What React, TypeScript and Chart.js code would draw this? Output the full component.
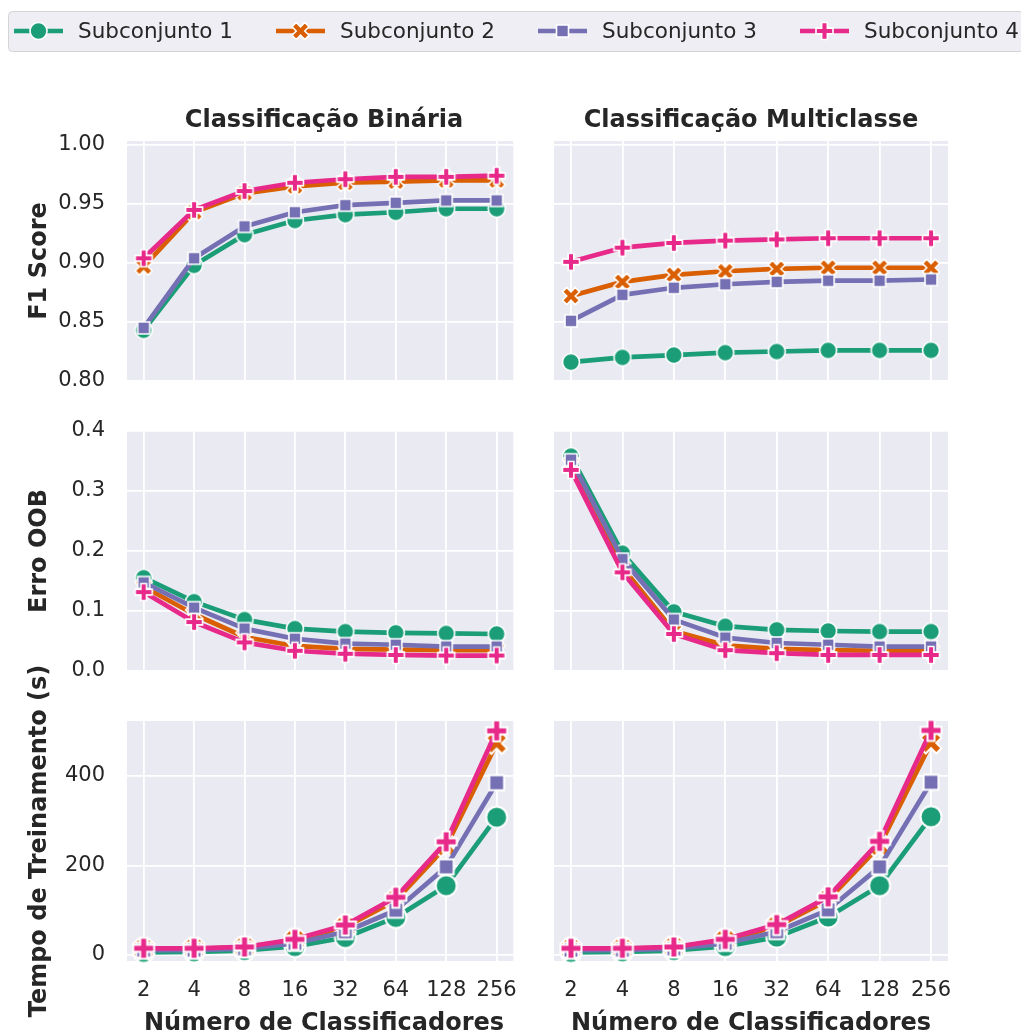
import React, { useEffect, useRef } from 'react';
import { Chart, registerables } from 'chart.js';

Chart.register(...registerables);

// ---------------- data ----------------
const classificadores = [2, 4, 8, 16, 32, 64, 128, 256];
const subconjuntos = ['Subconjunto 1', 'Subconjunto 2', 'Subconjunto 3', 'Subconjunto 4'];
const cores = ['#1b9e77', '#d95f02', '#7570b3', '#e7298a'];
const marcadores = ['circle', 'x', 'square', 'plus'];

const colTitles = ['Classificação Binária', 'Classificação Multiclasse'];
const rowLabels = ['F1 Score', 'Erro OOB', 'Tempo de Treinamento (s)'];
const xLabel = 'Número de Classificadores';

// F1 Score - binária
const f1BinS1 = [0.843, 0.898, 0.924, 0.936, 0.941, 0.943, 0.946, 0.946];
const f1BinS2 = [0.897, 0.943, 0.959, 0.965, 0.968, 0.969, 0.970, 0.970];
const f1BinS3 = [0.845, 0.904, 0.931, 0.943, 0.949, 0.951, 0.953, 0.953];
const f1BinS4 = [0.904, 0.945, 0.961, 0.968, 0.971, 0.973, 0.973, 0.974];
// F1 Score - multiclasse
const f1MulS1 = [0.816, 0.820, 0.822, 0.824, 0.825, 0.826, 0.826, 0.826];
const f1MulS2 = [0.872, 0.884, 0.890, 0.893, 0.895, 0.896, 0.896, 0.896];
const f1MulS3 = [0.851, 0.873, 0.879, 0.882, 0.884, 0.885, 0.885, 0.886];
const f1MulS4 = [0.901, 0.913, 0.917, 0.919, 0.920, 0.921, 0.921, 0.921];
// Erro OOB - binária
const oobBinS1 = [0.155, 0.115, 0.085, 0.070, 0.065, 0.063, 0.062, 0.061];
const oobBinS2 = [0.140, 0.094, 0.056, 0.041, 0.036, 0.035, 0.034, 0.034];
const oobBinS3 = [0.147, 0.105, 0.070, 0.053, 0.045, 0.043, 0.040, 0.040];
const oobBinS4 = [0.131, 0.081, 0.047, 0.033, 0.028, 0.026, 0.025, 0.025];
// Erro OOB - multiclasse
const oobMulS1 = [0.358, 0.196, 0.098, 0.074, 0.068, 0.066, 0.065, 0.065];
const oobMulS2 = [0.345, 0.172, 0.066, 0.042, 0.036, 0.034, 0.033, 0.033];
const oobMulS3 = [0.352, 0.186, 0.085, 0.055, 0.046, 0.043, 0.040, 0.040];
const oobMulS4 = [0.335, 0.164, 0.061, 0.034, 0.029, 0.026, 0.026, 0.026];
// Tempo de treinamento - binária
const tempoBinS1 = [6, 7, 10, 19, 39, 84, 155, 308];
const tempoBinS2 = [13, 14, 17, 33, 63, 122, 243, 473];
const tempoBinS3 = [11, 11, 14, 26, 52, 100, 197, 385];
const tempoBinS4 = [15, 15, 18, 35, 67, 129, 253, 501];
// Tempo de treinamento - multiclasse
const tempoMulS1 = [6, 7, 10, 19, 40, 85, 155, 309];
const tempoMulS2 = [13, 14, 17, 33, 64, 123, 244, 474];
const tempoMulS3 = [11, 11, 14, 26, 52, 101, 197, 386];
const tempoMulS4 = [15, 15, 18, 35, 68, 130, 254, 502];

const f1Ticks = [0.8, 0.85, 0.9, 0.95, 1.0];
const oobTicks = [0, 0.1, 0.2, 0.3, 0.4];
const tempoTicks = [0, 200, 400];

// ---------------- layout / style ----------------
const FONT = "'DejaVu Sans', sans-serif";
const TEXT = '#262626';
const BG = '#eaeaf2';
const LEGEND_MS = 17;

const rowCfg = [
  { top: 60, height: 340, padTop: 81, padBottom: 19, xHeight: 0, showX: false, min: 0.8, max: 1.0034, ticks: f1Ticks, dec: 2, ms: 17 },
  { top: 400, height: 290, padTop: 31, padBottom: 19, xHeight: 0, showX: false, min: -0.0008, max: 0.4, ticks: oobTicks, dec: 1, ms: 17 },
  { top: 690, height: 342, padTop: 31, padBottom: 0, xHeight: 71, showX: true, min: -13.4, max: 523, ticks: tempoTicks, dec: 0, ms: 21 },
];
const colCfg = [
  { left: 0, width: 527, padLeft: 0, padRight: 6, yWidth: 127, showY: true },
  { left: 527, width: 494, padLeft: 27, padRight: 73, yWidth: 0, showY: false },
];

const panels = [
  { row: 0, col: 0, series: [f1BinS1, f1BinS2, f1BinS3, f1BinS4] },
  { row: 0, col: 1, series: [f1MulS1, f1MulS2, f1MulS3, f1MulS4] },
  { row: 1, col: 0, series: [oobBinS1, oobBinS2, oobBinS3, oobBinS4] },
  { row: 1, col: 1, series: [oobMulS1, oobMulS2, oobMulS3, oobMulS4] },
  { row: 2, col: 0, series: [tempoBinS1, tempoBinS2, tempoBinS3, tempoBinS4] },
  { row: 2, col: 1, series: [tempoMulS1, tempoMulS2, tempoMulS3, tempoMulS4] },
];

const plusPts = [[-1, -3], [-1, -1], [-3, -1], [-3, 1], [-1, 1], [-1, 3], [1, 3], [1, 1], [3, 1], [3, -1], [1, -1], [1, -3]];
const xPts = [[-1, -2], [0, -1], [1, -2], [2, -1], [1, 0], [2, 1], [1, 2], [0, 1], [-1, 2], [-2, 1], [-1, 0], [-2, -1]];

function shapePoints(shape: string, size: number): number[][] | null {
  if (shape === 'plus') return plusPts.map(([a, b]) => [a * size / 6, b * size / 6]);
  if (shape === 'x') return xPts.map(([a, b]) => [a * size / 4, b * size / 4]);
  if (shape === 'square') {
    const h = size / 2 / Math.SQRT2;
    return [[-h, -h], [h, -h], [h, h], [-h, h]];
  }
  return null;
}

function makeMarker(shape: string, color: string, size: number): HTMLCanvasElement {
  const S = Math.ceil(size / 2 + 3) * 2;
  const c = document.createElement('canvas');
  c.width = S;
  c.height = S;
  const ctx = c.getContext('2d')!;
  ctx.translate(S / 2, S / 2);
  ctx.fillStyle = color;
  ctx.strokeStyle = '#ffffff';
  ctx.lineWidth = size > 19 ? 2 : 1.6;
  ctx.lineJoin = 'miter';
  ctx.beginPath();
  const pts = shapePoints(shape, size);
  if (!pts) {
    ctx.arc(0, 0, size / 2, 0, Math.PI * 2);
  } else {
    pts.forEach(([a, b], i) => (i === 0 ? ctx.moveTo(a, b) : ctx.lineTo(a, b)));
    ctx.closePath();
  }
  ctx.fill();
  ctx.stroke();
  return c;
}

const bgPlugin = {
  id: 'panelBg',
  beforeDraw(chart: any) {
    const { ctx, chartArea } = chart;
    ctx.save();
    ctx.fillStyle = BG;
    ctx.fillRect(chartArea.left, chartArea.top, chartArea.right - chartArea.left, chartArea.bottom - chartArea.top);
    ctx.restore();
  },
};

function buildConfig(p: any): any {
  const r = rowCfg[p.row];
  const c = colCfg[p.col];
  const markers = cores.map((col, i) => makeMarker(marcadores[i], col, r.ms));
  return {
    type: 'line',
    data: {
      datasets: p.series.map((vals: number[], i: number) => ({
        label: subconjuntos[i],
        data: classificadores.map((n, j) => ({ x: Math.log2(n), y: vals[j] })),
        borderColor: cores[i],
        backgroundColor: cores[i],
        borderWidth: 4.7,
        borderJoinStyle: 'round',
        borderCapStyle: 'butt',
        pointStyle: markers[i],
        pointRadius: 9,
        pointHoverRadius: 9,
        tension: 0,
        order: 4 - i,
        clip: false,
      })),
    },
    options: {
      animation: false,
      responsive: false,
      maintainAspectRatio: false,
      events: [],
      layout: { padding: { left: c.padLeft, right: c.padRight, top: r.padTop, bottom: r.padBottom } },
      plugins: { legend: { display: false }, tooltip: { enabled: false }, title: { display: false } },
      scales: {
        x: {
          type: 'linear',
          position: 'bottom',
          min: 0.67,
          max: 8.33,
          afterBuildTicks: (s: any) => {
            s.ticks = classificadores.map((n) => ({ value: Math.log2(n) }));
          },
          afterFit: (s: any) => {
            s.height = r.xHeight;
            s.paddingLeft = 0;
            s.paddingRight = 0;
            s.paddingTop = 0;
            s.paddingBottom = 0;
          },
          ticks: {
            display: r.showX,
            autoSkip: false,
            maxRotation: 0,
            padding: 17,
            color: TEXT,
            font: { family: FONT, size: 21 },
            callback: (v: number) => String(Math.round(Math.pow(2, v))),
          },
          grid: { color: '#ffffff', lineWidth: 1.8, drawTicks: false },
          border: { display: false },
        },
        y: {
          type: 'linear',
          position: 'left',
          min: r.min,
          max: r.max,
          afterBuildTicks: (s: any) => {
            s.ticks = r.ticks.map((v: number) => ({ value: v }));
          },
          afterFit: (s: any) => {
            s.width = c.yWidth;
            s.paddingLeft = 0;
            s.paddingRight = 0;
            s.paddingTop = 0;
            s.paddingBottom = 0;
          },
          ticks: {
            display: c.showY,
            padding: 22,
            color: TEXT,
            font: { family: FONT, size: 21 },
            callback: (v: number) => Number(v).toFixed(r.dec),
          },
          grid: { color: '#ffffff', lineWidth: 1.8, drawTicks: false },
          border: { display: false },
        },
      },
    },
    plugins: [bgPlugin],
  };
}

function LegendMarker({ shape, cx, cy, color }: { shape: string; cx: number; cy: number; color: string }) {
  const pts = shapePoints(shape, LEGEND_MS);
  if (!pts) return <circle cx={cx} cy={cy} r={LEGEND_MS / 2} fill={color} stroke="#fff" strokeWidth={1.6} />;
  return (
    <polygon
      points={pts.map(([a, b]) => `${cx + a},${cy + b}`).join(' ')}
      fill={color}
      stroke="#fff"
      strokeWidth={1.6}
    />
  );
}

const legendStarts = [14, 276, 538, 800];

export default function App() {
  const refs = useRef<(HTMLCanvasElement | null)[]>([]);

  useEffect(() => {
    const charts = panels.map((p, k) => new Chart(refs.current[k] as HTMLCanvasElement, buildConfig(p)));
    return () => charts.forEach((ch) => ch.destroy());
  }, []);

  const panelCenters = [324, 751];
  const rowCenters = [261, 551, 841];

  return (
    <div style={{ position: 'fixed', left: 0, top: 0, width: 1021, height: 1032, background: '#fff', overflow: 'hidden' }}>
      {panels.map((p, k) => {
        const r = rowCfg[p.row];
        const c = colCfg[p.col];
        return (
          <canvas
            key={k}
            ref={(el) => {
              refs.current[k] = el;
            }}
            width={c.width}
            height={r.height}
            style={{ position: 'absolute', left: c.left, top: r.top, width: c.width, height: r.height }}
          />
        );
      })}
      <svg
        width={1021}
        height={1032}
        style={{ position: 'absolute', left: 0, top: 0, pointerEvents: 'none' }}
        fontFamily={FONT}
      >
        {/* legend */}
        <rect x={8.5} y={11.5} width={1100} height={40} rx={4} fill="#eeeef4" stroke="#d4d4d4" strokeWidth={1} />
        {subconjuntos.map((name, i) => {
          const x0 = legendStarts[i];
          return (
            <g key={name}>
              <line x1={x0} y1={31} x2={x0 + 49} y2={31} stroke={cores[i]} strokeWidth={4.7} />
              <LegendMarker shape={marcadores[i]} cx={x0 + 24.5} cy={31} color={cores[i]} />
              <text x={x0 + 64} y={37.5} fontSize={21.5} fill={TEXT}>
                {name}
              </text>
            </g>
          );
        })}
        {/* column titles */}
        {colTitles.map((t, i) => (
          <text key={t} x={panelCenters[i]} y={127} textAnchor="middle" fontSize={24} fontWeight="bold" fill={TEXT}>
            {t}
          </text>
        ))}
        {/* row labels */}
        {rowLabels.map((t, i) => (
          <text
            key={t}
            x={0}
            y={0}
            transform={`translate(46 ${rowCenters[i]}) rotate(-90)`}
            textAnchor="middle"
            fontSize={24}
            fontWeight="bold"
            fill={TEXT}
          >
            {t}
          </text>
        ))}
        {/* x labels */}
        {panelCenters.map((cx, i) => (
          <text key={i} x={cx} y={1030} textAnchor="middle" fontSize={24} fontWeight="bold" fill={TEXT}>
            {xLabel}
          </text>
        ))}
      </svg>
    </div>
  );
}
